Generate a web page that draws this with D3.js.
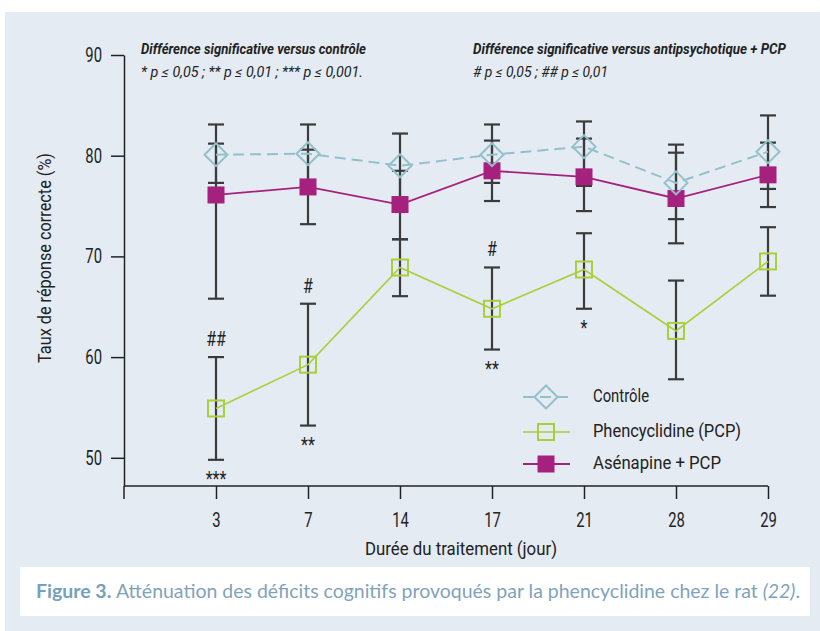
<!DOCTYPE html>
<html><head><meta charset="utf-8">
<script src="https://cdn.jsdelivr.net/npm/d3@7"></script>
<style>
html,body{margin:0;padding:0;background:#fff;}
svg{display:block;}
text{font-family:Roboto,"Noto Sans",sans-serif;}
</style></head>
<body>
<svg id="chart" width="820" height="631"></svg>
<script>
// ---- data ----
const days = ["3","7","14","17","21","28","29"];
const controlMean = [80.1, 80.2, 79.0, 80.1, 80.9, 77.3, 80.4];
const controlLow  = [77.3, 77.3, 75.8, 77.3, 77.0, 73.7, 76.7];
const controlHigh = [83.1, 83.1, 82.2, 83.1, 83.4, 81.1, 84.0];
const pcpMean = [54.9, 59.25, 68.9, 64.8, 68.7, 62.6, 69.5];
const pcpLow  = [49.8, 53.2, 66.05, 60.75, 64.8, 57.8, 66.1];
const pcpHigh = [60.0, 65.3, 71.7, 68.9, 72.3, 67.6, 72.9];
const asenMean = [76.1, 76.9, 75.15, 78.5, 77.9, 75.75, 78.1];
const asenLow  = [65.8, 73.2, 71.7, 75.5, 74.5, 71.3, 74.9];
const asenHigh = [81.2, 80.6, 78.5, 81.5, 81.7, 80.3, 81.3];
const pcpAbove = ["##", "#", "", "#", "", "", ""];
const pcpBelow = ["***", "**", "", "**", "*", "", ""];
const yTicks = [50, 60, 70, 80, 90];
const seriesNames = ["Contrôle", "Phencyclidine (PCP)", "Asénapine + PCP"];

// ---- styles ----
const C_CTRL = "#93c1cb", C_PCP = "#a9cf3b", C_ASEN = "#a6217e", C_BAR = "#3b3b3d", C_TXT = "#222";
const svg = d3.select("#chart");

// squeeze a text horizontally (the reference uses a condensed face)
function squeeze(sel, factor){
  sel.each(function(){
    const w = this.getComputedTextLength();
    if (w > 0) d3.select(this).attr("textLength", w*factor).attr("lengthAdjust","spacingAndGlyphs");
  });
}
function fitTo(sel, width){
  sel.attr("textLength", width).attr("lengthAdjust","spacingAndGlyphs");
}

// background panel
svg.append("rect").attr("x",5).attr("y",12).attr("width",815).attr("height",619).attr("fill","#e4ebf2");
svg.append("rect").attr("x",20).attr("y",567).attr("width",790).attr("height",49).attr("fill","#fff");

const x = d3.scalePoint().domain(days).range([124, 860]).padding(1);
const y = d3.scaleLinear().domain([47.2, 90]).range([486, 55]);

// axes
const yAx = svg.append("g").attr("transform","translate(124,0)")
  .call(d3.axisLeft(y).tickValues(yTicks).tickSize(13).tickSizeOuter(0).tickPadding(9));
yAx.attr("font-family",null).attr("font-size",null);
yAx.selectAll("text").style("font-size","20px").attr("fill",C_TXT).call(squeeze, 0.74);
yAx.selectAll("line,path").attr("stroke","#222").attr("stroke-width",1.5);

const xAx = svg.append("g").attr("transform","translate(0,486)")
  .call(d3.axisBottom(x).tickSize(13).tickPadding(14));
xAx.attr("font-family",null).attr("font-size",null);
xAx.select(".domain").remove();
xAx.selectAll("text").style("font-size","20px").attr("fill",C_TXT).call(squeeze, 0.74);
xAx.selectAll("line").attr("stroke","#222").attr("stroke-width",1.5);
svg.append("line").attr("x1",124).attr("x2",x(days[days.length-1])).attr("y1",486).attr("y2",486)
  .attr("stroke","#222").attr("stroke-width",1.5);
svg.append("line").attr("x1",124).attr("x2",124).attr("y1",486).attr("y2",499)
  .attr("stroke","#222").attr("stroke-width",1.5);

// axis titles
svg.append("text").attr("transform","translate(46,258) rotate(-90)")
  .attr("text-anchor","middle").attr("dominant-baseline","middle").style("font-size","19px").attr("fill",C_TXT)
  .text("Taux de réponse correcte (%)").call(fitTo, 210);
svg.append("text").attr("x",461).attr("y",555)
  .attr("text-anchor","middle").style("font-size","19px").attr("fill",C_TXT)
  .text("Durée du traitement (jour)").call(fitTo, 192);

// top notes
function note(xp, yp, txt, bold, w){
  svg.append("text").attr("x",xp).attr("y",yp)
    .style("font-size","14.5px").style("font-style","italic").style("font-weight",bold?"bold":"normal")
    .attr("fill",C_TXT).text(txt).call(fitTo, w);
}
note(141, 54, "Différence significative versus contrôle", true, 225);
note(141, 77, "* p ≤ 0,05 ; ** p ≤ 0,01 ; *** p ≤ 0,001.", false, 222);
note(473, 54, "Différence significative versus antipsychotique + PCP", true, 313);
note(473, 77, "# p ≤ 0,05 ; ## p ≤ 0,01", false, 135);

// error bars
const capW = 8;
function errBars(low, high){
  const g = svg.append("g").attr("stroke",C_BAR).attr("stroke-width",2.2);
  days.forEach((d,i)=>{
    const cx = x(d);
    g.append("line").attr("x1",cx).attr("x2",cx).attr("y1",y(low[i])).attr("y2",y(high[i]));
    g.append("line").attr("x1",cx-capW).attr("x2",cx+capW).attr("y1",y(low[i])).attr("y2",y(low[i]));
    g.append("line").attr("x1",cx-capW).attr("x2",cx+capW).attr("y1",y(high[i])).attr("y2",y(high[i]));
  });
}
errBars(asenLow, asenHigh);
errBars(controlLow, controlHigh);
errBars(pcpLow, pcpHigh);

// lines
const line = d3.line().x((v,i)=>x(days[i])).y(v=>y(v));
svg.append("path").datum(pcpMean).attr("d",line).attr("fill","none").attr("stroke",C_PCP).attr("stroke-width",1.6);
svg.append("path").datum(asenMean).attr("d",line).attr("fill","none").attr("stroke",C_ASEN).attr("stroke-width",1.8);
svg.append("path").datum(controlMean).attr("d",line).attr("fill","none").attr("stroke",C_CTRL)
  .attr("stroke-width",2).attr("stroke-dasharray","11,6");

// markers
function diamond(g, cx, cy){
  g.append("path").attr("d",`M${cx},${cy-11.5}L${cx+11.5},${cy}L${cx},${cy+11.5}L${cx-11.5},${cy}Z`)
    .attr("fill","none").attr("stroke",C_CTRL).attr("stroke-width",2);
}
function hollowSq(g, cx, cy){
  g.append("rect").attr("x",cx-8).attr("y",cy-8).attr("width",16).attr("height",16)
    .attr("fill","none").attr("stroke",C_PCP).attr("stroke-width",2);
}
function filledSq(g, cx, cy){
  g.append("rect").attr("x",cx-8.5).attr("y",cy-8.5).attr("width",17).attr("height",17).attr("fill",C_ASEN);
}
const mk = svg.append("g");
days.forEach((d,i)=>{
  hollowSq(mk, x(d), y(pcpMean[i]));
  filledSq(mk, x(d), y(asenMean[i]));
  diamond(mk, x(d), y(controlMean[i]));
});

// significance marks
days.forEach((d,i)=>{
  if(pcpAbove[i]) svg.append("text").attr("x",x(d)).attr("y",y(pcpHigh[i])-11)
    .attr("text-anchor","middle").style("font-size","20px").attr("fill",C_TXT).text(pcpAbove[i]).call(squeeze,0.8);
  if(pcpBelow[i]) svg.append("text").attr("x",x(d)).attr("y",y(pcpLow[i])+26)
    .attr("text-anchor","middle").style("font-size","20px").attr("fill",C_TXT).text(pcpBelow[i]).call(squeeze,0.8);
});

// legend
const legY = [397, 432, 464];
const legW = [56, 148, 128];
const lg = svg.append("g");
lg.append("line").attr("x1",523).attr("x2",570).attr("y1",legY[0]).attr("y2",legY[0])
  .attr("stroke",C_CTRL).attr("stroke-width",2).attr("stroke-dasharray","11,6");
diamond(lg, 546, legY[0]);
lg.append("line").attr("x1",523).attr("x2",570).attr("y1",legY[1]).attr("y2",legY[1])
  .attr("stroke",C_PCP).attr("stroke-width",1.6);
hollowSq(lg, 546, legY[1]);
lg.append("line").attr("x1",523).attr("x2",570).attr("y1",legY[2]).attr("y2",legY[2])
  .attr("stroke",C_ASEN).attr("stroke-width",1.8);
filledSq(lg, 546, legY[2]);
seriesNames.forEach((n,i)=>{
  lg.append("text").attr("x",593).attr("y",legY[i]).attr("dominant-baseline","middle")
    .style("font-size","19px").attr("fill",C_TXT).text(n).call(fitTo, legW[i]);
});

// caption
const cap = svg.append("text").attr("x",36).attr("y",598).style("font-family","Lato, 'Open Sans', sans-serif")
  .style("font-size","19px").attr("fill","#7fa3ba");
cap.append("tspan").style("font-weight","bold").attr("fill","#74a0b9").text("Figure 3. ");
cap.append("tspan").text("Atténuation des déficits cognitifs provoqués par la phencyclidine chez le rat ");
cap.append("tspan").style("font-style","italic").text("(22)");
cap.append("tspan").text(".");
cap.call(fitTo, 764);
</script>
</body></html>
